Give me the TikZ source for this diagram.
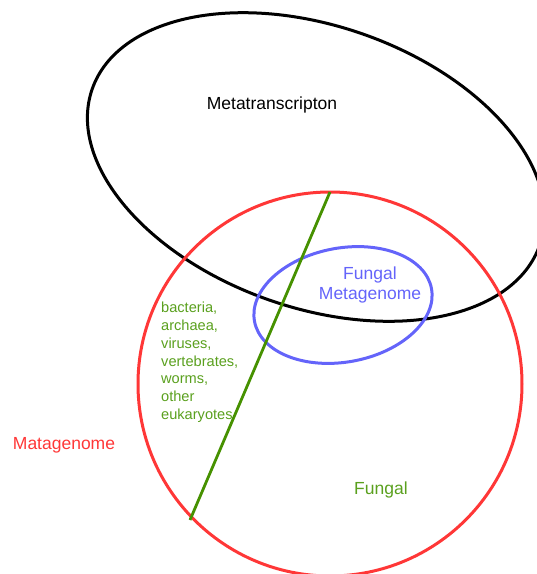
\documentclass[tikz,border=0pt]{standalone}
\usepackage{fontspec}
\setmainfont{Liberation Sans}
\definecolor{cred}{RGB}{255,55,55}
\definecolor{cblue}{RGB}{100,100,250}
\definecolor{cgline}{RGB}{70,145,0}
\definecolor{cgtext}{RGB}{90,160,30}
\begin{document}
\begin{tikzpicture}[x=1pt,y=-1pt,
  outl/.style={line width=3pt},
  lbl/.style={inner sep=0pt, align=center, font=\fontsize{17.5}{20}\selectfont},
  lst/.style={inner sep=0pt, align=left, font=\fontsize{14.6}{17.8}\selectfont}]
\useasboundingbox (0,0) rectangle (537,574);
\draw[outl, black, rotate around={-19.2:(316,167)}] (316,167) ellipse [x radius=237, y radius=141];
\draw[outl, cred] (330,384) circle [radius=192];
\draw[outl, cblue, rotate around={10.5:(343,305)}] (343,305) ellipse [x radius=90, y radius=57];
\coordinate (gtop) at (330,192);
\coordinate (gbot) at (190,520);
\draw[line width=2.8pt, cgline] (gtop) -- (gbot);
\node[lbl] (meta) at (272,105) {Metatranscripton};
\node[lbl, text=cblue] (fm) at (370,285) {Fungal\\Metagenome};
\node[lst, text=cgtext, anchor=north west] (list) at (161,302) {bacteria,\\archaea,\\viruses,\\vertebrates,\\worms,\\other\\eukaryotes};
\node[lbl, text=cred] (mg) at (64,445) {Matagenome};
\node[lbl, text=cgtext] (fg) at (381,490) {Fungal};
\end{tikzpicture}
\end{document}
